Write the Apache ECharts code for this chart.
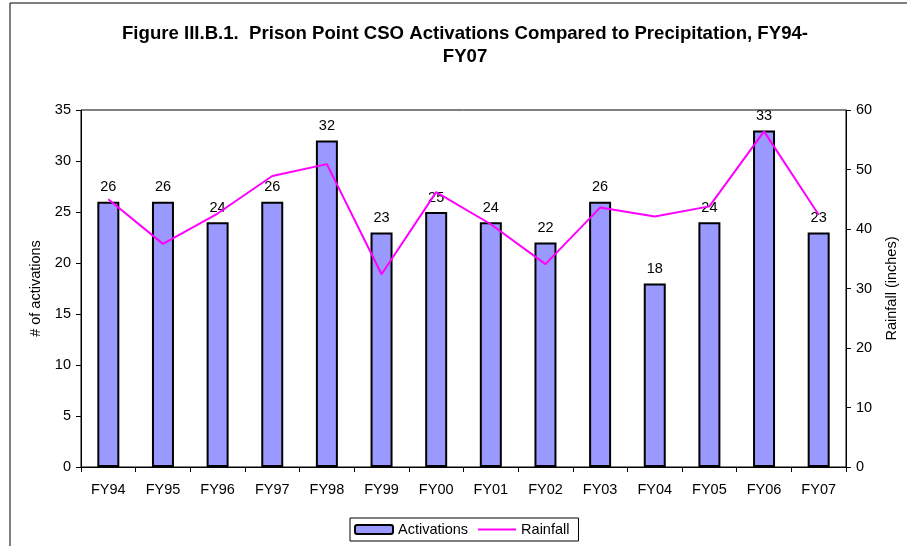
<!DOCTYPE html>
<html>
<head>
<meta charset="utf-8">
<script src="https://cdn.jsdelivr.net/npm/echarts@6/dist/echarts.min.js"></script>
<style>
  html, body { margin: 0; padding: 0; background: #fff; }
  #chart { width: 907px; height: 546px; }
</style>
</head>
<body>
<div id="chart"></div>
<script>
var years = ['FY94', 'FY95', 'FY96', 'FY97', 'FY98', 'FY99', 'FY00', 'FY01', 'FY02', 'FY03', 'FY04', 'FY05', 'FY06', 'FY07'];
var activations = [26, 26, 24, 26, 32, 23, 25, 24, 22, 26, 18, 24, 33, 23];
// rainfall (inches)
var rainfall = [45.0, 37.5, 42.6, 48.9, 50.9, 32.4, 46.2, 40.8, 34.1, 43.6, 42.1, 43.8, 56.4, 42.4];

var font = 'Arial, "Liberation Sans", sans-serif';
var fs = 14.5;
var chart = echarts.init(document.getElementById('chart'));

var option = {
  backgroundColor: '#ffffff',
  animation: false,
  textStyle: { fontFamily: font, color: '#000' },
  title: {
    text: 'Figure III.B.1.  Prison Point CSO Activations Compared to Precipitation, FY94-\nFY07',
    left: 460,
    top: 17,
    textAlign: 'center',
    textStyle: { fontFamily: font, fontSize: 18.6, fontWeight: 'bold', color: '#000', lineHeight: 23 }
  },
  graphic: [{
    type: 'rect',
    shape: { x: 10, y: 3, width: 1000, height: 1000 },
    style: { fill: null, stroke: '#000', lineWidth: 1 },
    silent: true
  }],
  legend: {
    left: 350,
    top: 518,
    itemWidth: 38,
    itemHeight: 9,
    itemGap: 10,
    padding: [4, 9, 4, 4],
    borderColor: '#000',
    borderWidth: 1,
    textStyle: { fontFamily: font, fontSize: fs, color: '#000' },
    data: [
      { name: 'Activations' },
      {
        name: 'Rainfall',
        icon: 'path://M0,0 L40,0 L40,2 L0,2 Z',
        itemStyle: { color: '#FF00FF', borderWidth: 0 }
      }
    ]
  },
  grid: {
    left: 81, right: 60, top: 110, bottom: 79,
    show: true, borderColor: '#000', borderWidth: 1, backgroundColor: 'transparent'
  },
  xAxis: {
    type: 'category',
    data: years,
    axisLine: { lineStyle: { color: '#000', width: 1 } },
    axisTick: { show: true, alignWithLabel: false, length: 5, lineStyle: { color: '#000' } },
    axisLabel: { fontFamily: font, fontSize: fs, color: '#000', margin: 15 }
  },
  yAxis: [{
    type: 'value',
    min: 0, max: 35, interval: 5,
    name: '# of activations',
    nameLocation: 'middle',
    nameGap: 36,
    nameTextStyle: { fontFamily: font, fontSize: fs, color: '#000' },
    axisLine: { show: true, lineStyle: { color: '#000' } },
    axisTick: { show: true, length: 5, lineStyle: { color: '#000' } },
    axisLabel: { fontFamily: font, fontSize: fs, color: '#000', margin: 10 },
    splitLine: { show: false }
  }, {
    type: 'value',
    min: 0, max: 60, interval: 10,
    position: 'right',
    name: 'Rainfall (inches)',
    nameLocation: 'middle',
    nameGap: 38,
    nameTextStyle: { fontFamily: font, fontSize: fs, color: '#000' },
    axisLine: { show: true, lineStyle: { color: '#000' } },
    axisTick: { show: true, length: 5, lineStyle: { color: '#000' } },
    axisLabel: { fontFamily: font, fontSize: fs, color: '#000', margin: 10 },
    splitLine: { show: false }
  }],
  series: [{
    name: 'Activations',
    type: 'bar',
    data: activations,
    barWidth: 22,
    itemStyle: { color: '#9999FF', borderColor: '#000', borderWidth: 2 },
    label: { show: true, position: 'top', distance: 7, fontFamily: font, fontSize: fs, color: '#000' }
  }, {
    name: 'Rainfall',
    type: 'line',
    yAxisIndex: 1,
    data: rainfall,
    symbol: 'none',
    lineStyle: { color: '#FF00FF', width: 2 },
    itemStyle: { color: '#FF00FF' },
    z: 3
  }]
};

chart.setOption(option);
</script>
</body>
</html>
